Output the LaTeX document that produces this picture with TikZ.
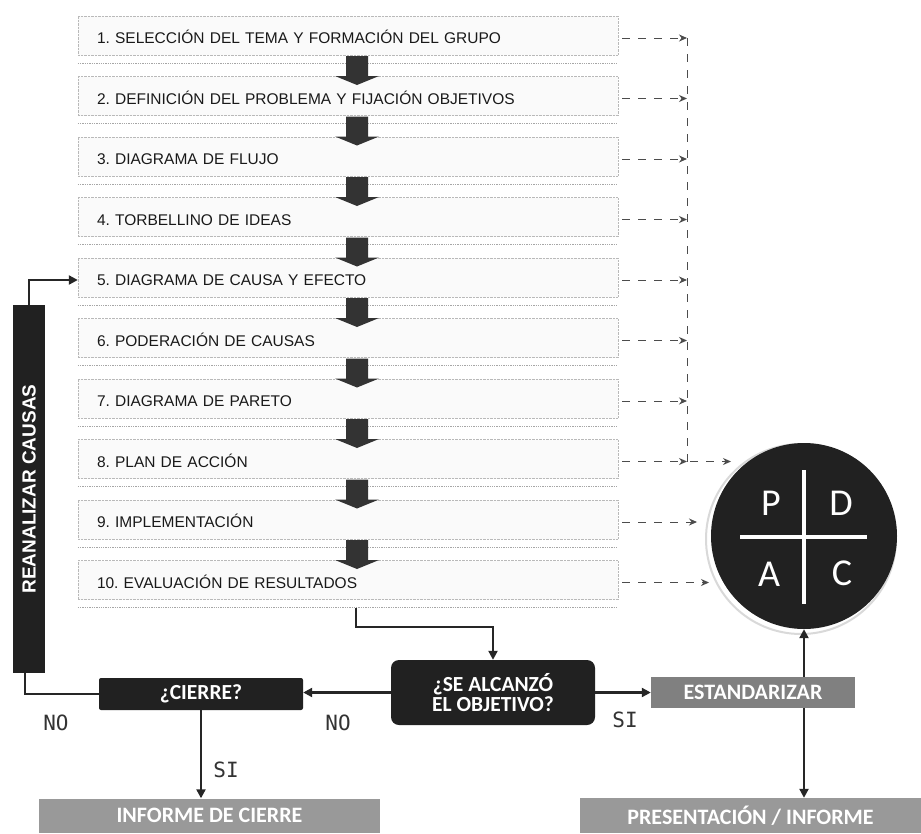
\documentclass[tikz,border=0pt]{standalone}
\usepackage{fontspec}
\setmainfont{Liberation Sans}
\newfontfamily\calfont{Carlito}
\newfontfamily\monofnt{DejaVu Sans Mono}
\usetikzlibrary{arrows.meta,calc}
\frenchspacing
\begin{document}
\begin{tikzpicture}[x=1pt,y=-1pt,
  stepbox/.style={draw=gray!55, densely dotted, fill=gray!4, minimum width=540pt,
    minimum height=39pt, text width=502pt, inner xsep=19pt, inner ysep=0pt,
    align=left, text height=18pt, text depth=2pt,
    font=\fontsize{15.5}{18}\selectfont, text=black!90},
  shadowline/.style={draw=gray!70, densely dotted, line width=1.3pt},
  downarrow/.style={fill=black!80},
  dasharrow/.style={draw=black!70, line width=1pt, dash pattern=on 8pt off 8pt,
    -{Stealth[length=8pt,width=7pt]}},
  dashline/.style={draw=black!70, line width=1pt, dash pattern=on 8pt off 8pt},
  conn/.style={draw=black!85, line width=2.2pt, -{Triangle[length=9pt,width=9pt]}},
  connline/.style={draw=black!85, line width=2.2pt},
  darkbox/.style={fill=black!87, text=white, inner sep=0pt,
    font=\calfont\bfseries\fontsize{21.5}{20}\selectfont, align=center},
  graybox/.style={fill=black!50, text=white, inner sep=0pt,
    font=\calfont\bfseries\fontsize{22}{22}\selectfont},
  lightbox/.style={fill=black!40, text=white, inner sep=0pt,
    font=\calfont\bfseries\fontsize{22}{22}\selectfont},
  lab/.style={text=black!80, inner sep=0pt, font=\monofnt\fontsize{21}{21}\selectfont},
  pdcal/.style={text=white, inner sep=0pt, font=\calfont\fontsize{38}{38}\selectfont},
]
\fill[white] (0,0) rectangle (921,833);
\path[use as bounding box] (0,0) rectangle (921,833);

% step boxes
\foreach \i/\t in {1/1. SELECCIÓN DEL TEMA Y FORMACIÓN DEL GRUPO,
  2/2. DEFINICIÓN DEL PROBLEMA Y FIJACIÓN OBJETIVOS,
  3/3. DIAGRAMA DE FLUJO,
  4/4. TORBELLINO DE IDEAS,
  5/5. DIAGRAMA DE CAUSA Y EFECTO,
  6/6. PODERACIÓN DE CAUSAS,
  7/7. DIAGRAMA DE PARETO,
  8/8. PLAN DE ACCIÓN,
  9/9. IMPLEMENTACIÓN,
  10/10. EVALUACIÓN DE RESULTADOS}{
  \node[stepbox] (s\i) at (348, {35.5+(\i-1)*60.5}) {\t};
  \draw[shadowline] ([yshift=-8pt]s\i.south west) -- ([yshift=-8pt]s\i.south east);
}

% thick down arrows between steps
\foreach \i in {1,...,9}{
  \pgfmathsetmacro{\c}{38+(\i-1)*60.5}
  \fill[downarrow] (346,\c+18) -- (368,\c+18) -- (368,\c+38) -- (379,\c+38)
    -- (357,\c+47) -- (335,\c+38) -- (346,\c+38) -- cycle;
}

% PDCA circle
\draw[gray!30, line width=2pt] (801,539) circle[radius=95];
\node[circle, fill=black!87, minimum size=186pt, inner sep=0pt] (pdca) at (804,536) {};
\draw[white, line width=4.5pt] ($(pdca.center)+(0,-66)$) -- ($(pdca.center)+(0,68)$);
\draw[white, line width=4.5pt] ($(pdca.center)+(-64,1)$) -- ($(pdca.center)+(63,1)$);
\node[pdcal] (lp) at ($(pdca.center)+(-33,-33)$) {P};
\node[pdcal] (ld) at ($(pdca.center)+(37,-33)$) {D};
\node[pdcal] (la) at ($(pdca.center)+(-35,38)$) {A};
\node[pdcal] (lc) at ($(pdca.center)+(38,37)$) {C};

% dashed arrows on the right
\foreach \i in {1,...,8}{
  \coordinate (v\i) at (687, {38+(\i-1)*60.5});
  \draw[dasharrow, shorten <=4pt] ([yshift=-2.5pt]s\i.east) -- (v\i);
}
\draw[dashline] (v1) -- (v8);
\coordinate (e8) at (731, {38+7*60.5});
\coordinate (e9) at (697, {38+8*60.5});
\coordinate (e10) at (709, {38+9*60.5});
\draw[dasharrow] ([xshift=3pt]v8) -- (e8);
\draw[dasharrow, shorten <=4pt] ([yshift=-2.5pt]s9.east) -- (e9);
\draw[dasharrow, shorten <=4pt] ([yshift=-2.5pt]s10.east) -- (e10);

% reanalizar bar
\node[rotate=90, fill=black!87, text=white, minimum width=368pt, minimum height=32pt,
  inner sep=0pt, font=\bfseries\fontsize{19}{19}\selectfont] (bar) at (29,489) {REANALIZAR CAUSAS};

% bottom boxes
\node[darkbox, minimum width=204pt, minimum height=65pt, rounded corners=8pt] (se) at (493,692.5) {¿SE ALCANZÓ\\EL OBJETIVO?};
\node[darkbox, minimum width=204pt, minimum height=32pt, rounded corners=2pt] (cierre) at (201,694) {¿CIERRE?};
\node[graybox, minimum width=204pt, minimum height=31pt] (est) at (753,692.5) {ESTANDARIZAR};
\node[lightbox, minimum width=341pt, minimum height=34pt] (inf) at (209.5,815.5) {INFORME DE CIERRE};
\node[lightbox, minimum width=341pt, minimum height=35pt] (pres) at (750.5,815.5) {PRESENTACIÓN / INFORME};

% connectors
\draw[conn] (bar.east) |- ([yshift=-2.5pt]s5.west);
\draw[connline] (cierre.west) -| ([xshift=-4pt]bar.west);
\coordinate (k) at (356,627);
\draw[conn] ([yshift=-8pt]s10.south -| k) -- (k) -| (se.north);
\draw[conn] (se.west) -- (se.west -| cierre.east);
\draw[conn] (se.east) -- (se.east -| est.west);
\draw[conn] (cierre.south) -- (cierre.south |- inf.north);
\draw[conn] (est.north -| pdca.south) -- (pdca.south);
\draw[conn] (est.south -| pdca.south) -- (pdca.south |- pres.north);

% labels
\node[lab] (no1) at (56,723) {NO};
\node[lab] (no2) at (338,723) {NO};
\node[lab] (si1) at (226,770) {SI};
\node[lab] (si2) at (625,720) {SI};
\end{tikzpicture}
\end{document}
